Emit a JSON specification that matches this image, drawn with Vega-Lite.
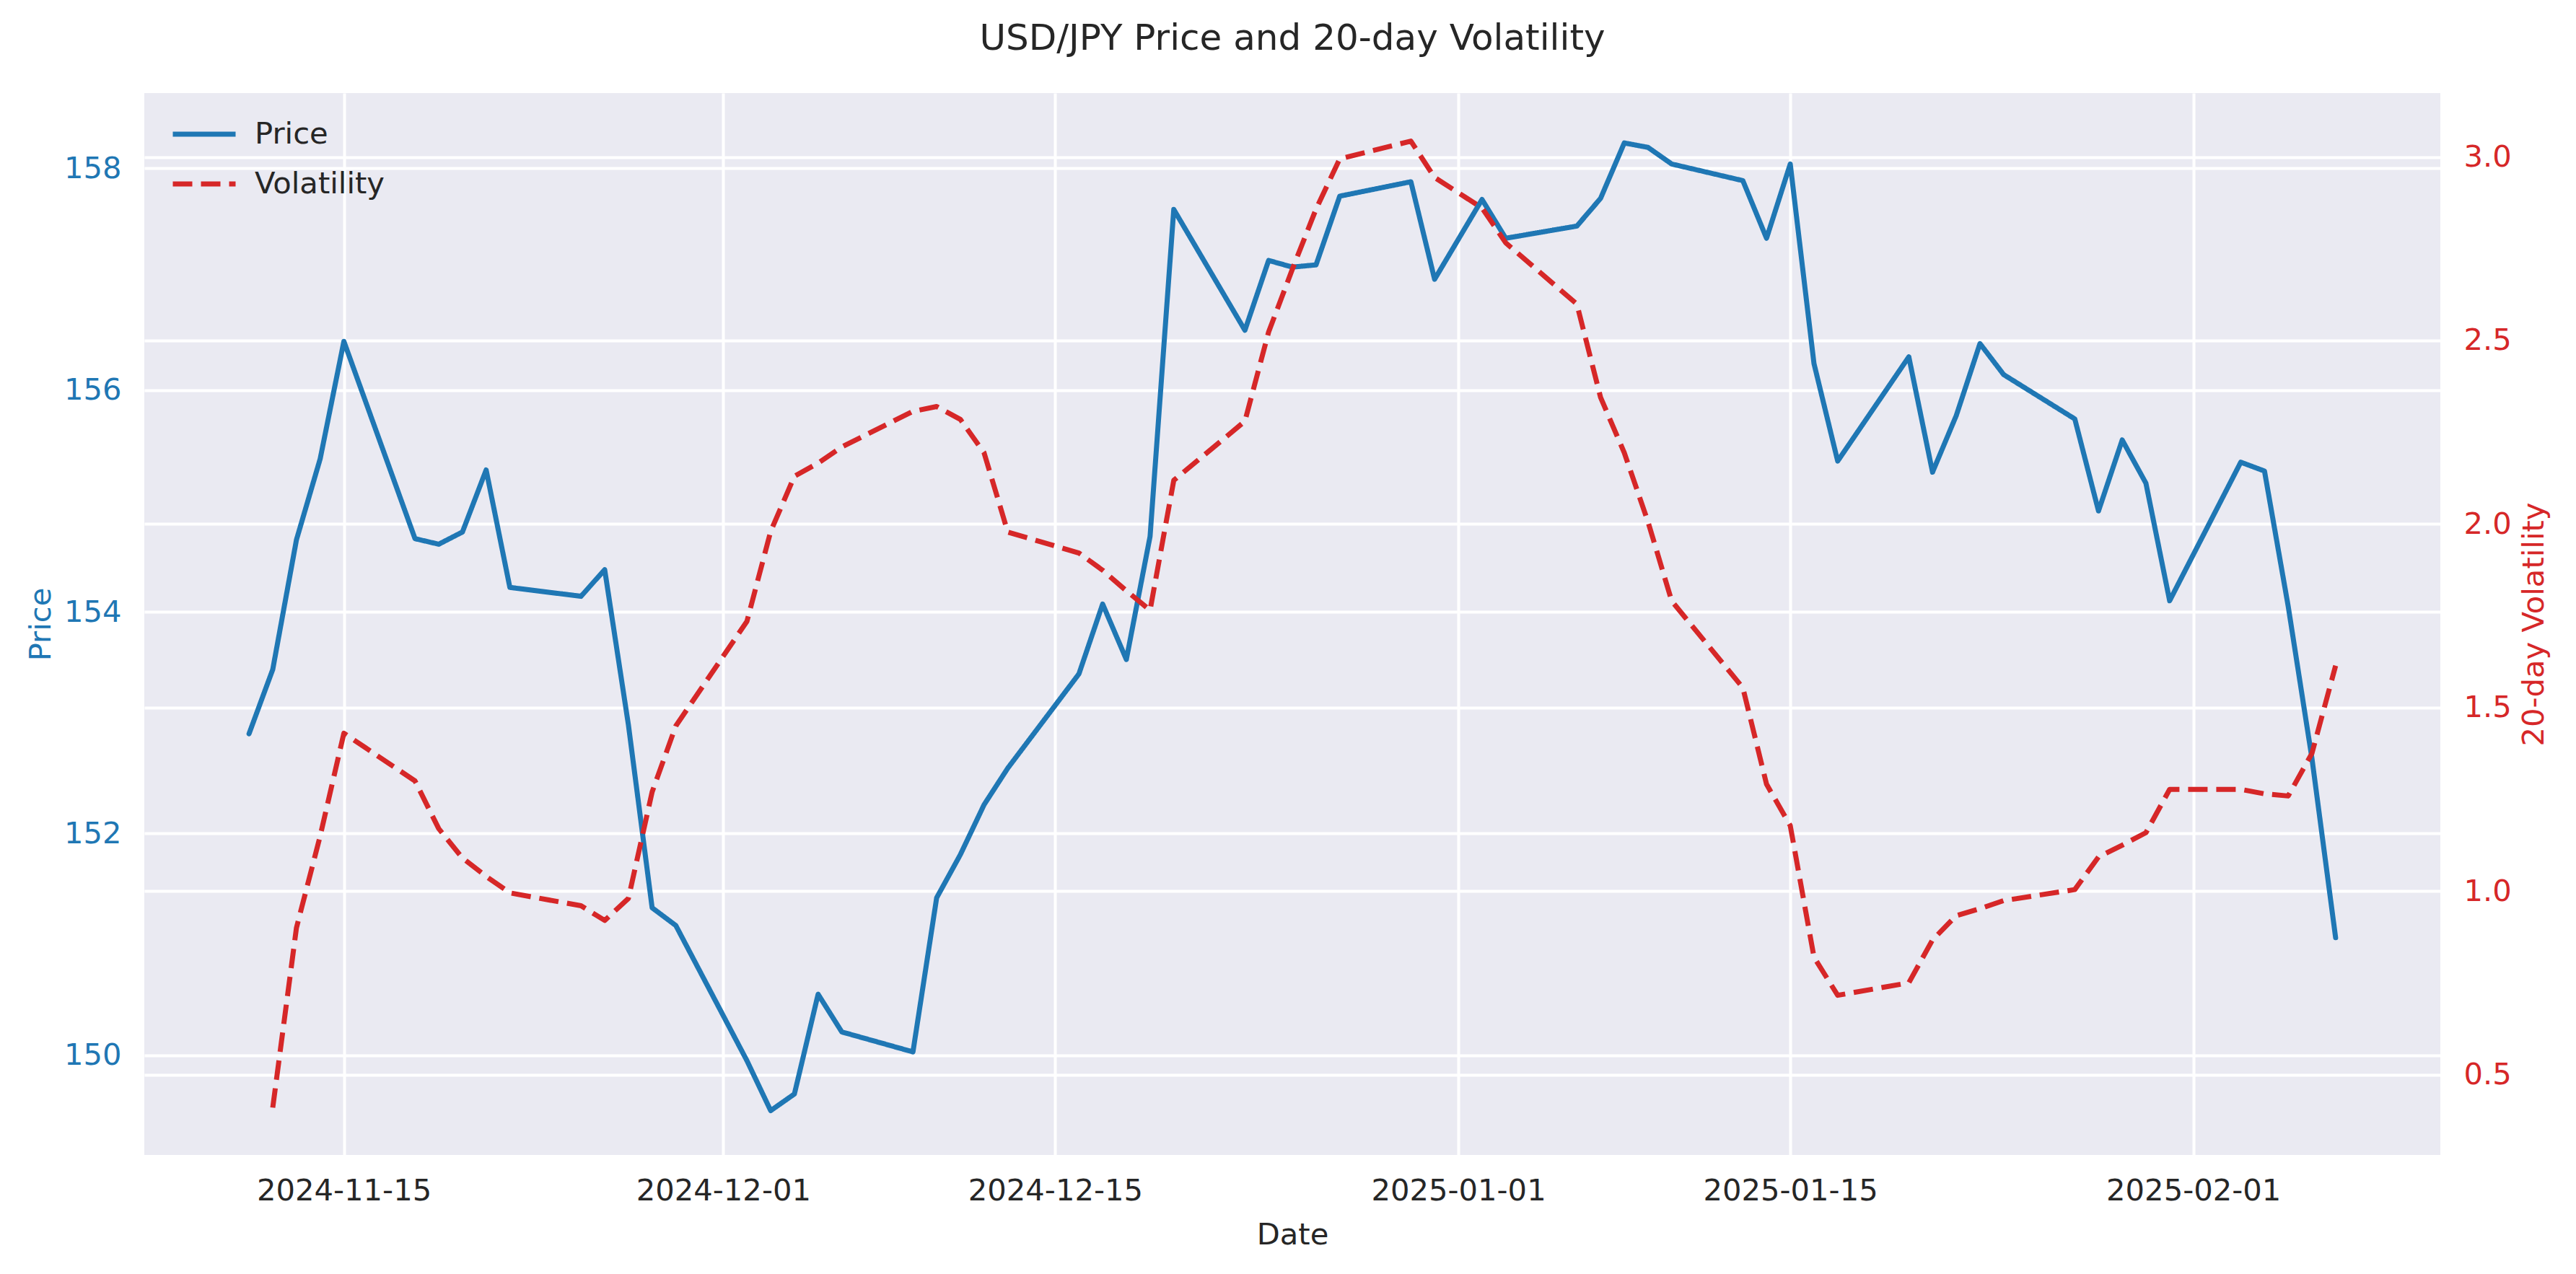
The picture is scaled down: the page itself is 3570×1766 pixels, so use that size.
{
  "$schema": "https://vega.github.io/schema/vega-lite/v6.json",
  "autosize": {"type": "none"},
  "width": 3182,
  "height": 1472,
  "padding": {"left": 200, "top": 129, "right": 188, "bottom": 165},
  "background": "white",
  "title": {"text": "USD/JPY Price and 20-day Volatility", "fontSize": 50, "font": "DejaVu Sans", "fontWeight": "normal", "color": "#262626", "anchor": "middle", "offset": 50},
  "data": {"values": [
    {"date": "2024-11-11", "Price": 152.90, "Volatility": null},
    {"date": "2024-11-12", "Price": 153.48, "Volatility": 0.41},
    {"date": "2024-11-13", "Price": 154.65, "Volatility": 0.90},
    {"date": "2024-11-14", "Price": 155.38, "Volatility": 1.15},
    {"date": "2024-11-15", "Price": 156.44, "Volatility": 1.43},
    {"date": "2024-11-18", "Price": 154.66, "Volatility": 1.30},
    {"date": "2024-11-19", "Price": 154.61, "Volatility": 1.17},
    {"date": "2024-11-20", "Price": 154.72, "Volatility": 1.09},
    {"date": "2024-11-21", "Price": 155.28, "Volatility": 1.04},
    {"date": "2024-11-22", "Price": 154.22, "Volatility": 0.995},
    {"date": "2024-11-25", "Price": 154.14, "Volatility": 0.96},
    {"date": "2024-11-26", "Price": 154.38, "Volatility": 0.92},
    {"date": "2024-11-27", "Price": 152.98, "Volatility": 0.98},
    {"date": "2024-11-28", "Price": 151.33, "Volatility": 1.27},
    {"date": "2024-11-29", "Price": 151.17, "Volatility": 1.45},
    {"date": "2024-12-02", "Price": 149.95, "Volatility": 1.735},
    {"date": "2024-12-03", "Price": 149.50, "Volatility": 1.98},
    {"date": "2024-12-04", "Price": 149.65, "Volatility": 2.13},
    {"date": "2024-12-05", "Price": 150.55, "Volatility": 2.166},
    {"date": "2024-12-06", "Price": 150.21, "Volatility": 2.21},
    {"date": "2024-12-09", "Price": 150.03, "Volatility": 2.307},
    {"date": "2024-12-10", "Price": 151.42, "Volatility": 2.32},
    {"date": "2024-12-11", "Price": 151.81, "Volatility": 2.285},
    {"date": "2024-12-12", "Price": 152.26, "Volatility": 2.194},
    {"date": "2024-12-13", "Price": 152.59, "Volatility": 1.978},
    {"date": "2024-12-16", "Price": 153.44, "Volatility": 1.921},
    {"date": "2024-12-17", "Price": 154.07, "Volatility": 1.874},
    {"date": "2024-12-18", "Price": 153.57, "Volatility": 1.818},
    {"date": "2024-12-19", "Price": 154.68, "Volatility": 1.765},
    {"date": "2024-12-20", "Price": 157.63, "Volatility": 2.119},
    {"date": "2024-12-23", "Price": 156.54, "Volatility": 2.28},
    {"date": "2024-12-24", "Price": 157.17, "Volatility": 2.523},
    {"date": "2024-12-25", "Price": 157.11, "Volatility": 2.694},
    {"date": "2024-12-26", "Price": 157.13, "Volatility": 2.858},
    {"date": "2024-12-27", "Price": 157.75, "Volatility": 2.995},
    {"date": "2024-12-30", "Price": 157.88, "Volatility": 3.043},
    {"date": "2024-12-31", "Price": 157.00, "Volatility": 2.944},
    {"date": "2025-01-02", "Price": 157.72, "Volatility": 2.861},
    {"date": "2025-01-03", "Price": 157.37, "Volatility": 2.766},
    {"date": "2025-01-06", "Price": 157.48, "Volatility": 2.599},
    {"date": "2025-01-07", "Price": 157.73, "Volatility": 2.345},
    {"date": "2025-01-08", "Price": 158.23, "Volatility": 2.194},
    {"date": "2025-01-09", "Price": 158.19, "Volatility": 2.006},
    {"date": "2025-01-10", "Price": 158.04, "Volatility": 1.79},
    {"date": "2025-01-13", "Price": 157.89, "Volatility": 1.554},
    {"date": "2025-01-14", "Price": 157.37, "Volatility": 1.291},
    {"date": "2025-01-15", "Price": 158.04, "Volatility": 1.178},
    {"date": "2025-01-16", "Price": 156.24, "Volatility": 0.82},
    {"date": "2025-01-17", "Price": 155.36, "Volatility": 0.716},
    {"date": "2025-01-20", "Price": 156.30, "Volatility": 0.75},
    {"date": "2025-01-21", "Price": 155.26, "Volatility": 0.867},
    {"date": "2025-01-22", "Price": 155.77, "Volatility": 0.933},
    {"date": "2025-01-23", "Price": 156.42, "Volatility": 0.952},
    {"date": "2025-01-24", "Price": 156.14, "Volatility": 0.974},
    {"date": "2025-01-27", "Price": 155.74, "Volatility": 1.004},
    {"date": "2025-01-28", "Price": 154.91, "Volatility": 1.093},
    {"date": "2025-01-29", "Price": 155.55, "Volatility": 1.125},
    {"date": "2025-01-30", "Price": 155.16, "Volatility": 1.159},
    {"date": "2025-01-31", "Price": 154.10, "Volatility": 1.277},
    {"date": "2025-02-03", "Price": 155.35, "Volatility": 1.277},
    {"date": "2025-02-04", "Price": 155.27, "Volatility": 1.265},
    {"date": "2025-02-05", "Price": 154.05, "Volatility": 1.259},
    {"date": "2025-02-06", "Price": 152.68, "Volatility": 1.375},
    {"date": "2025-02-07", "Price": 151.06, "Volatility": 1.614}
  ]},
  "transform": [{"fold": ["Price", "Volatility"], "as": ["key", "value"]}],
  "encoding": {
    "x": {
      "field": "date",
      "type": "temporal",
      "scale": {
        "type": "utc",
        "domain": [
          {"year": 2024, "month": 11, "date": 6, "hours": 14, "minutes": 0, "utc": true},
          {"year": 2025, "month": 2, "date": 11, "hours": 10, "minutes": 0, "utc": true}
        ]
      },
      "axis": {
        "title": "Date",
        "values": [
          {"year": 2024, "month": 11, "date": 15, "utc": true},
          {"year": 2024, "month": 12, "date": 1, "utc": true},
          {"year": 2024, "month": 12, "date": 15, "utc": true},
          {"year": 2025, "month": 1, "date": 1, "utc": true},
          {"year": 2025, "month": 1, "date": 15, "utc": true},
          {"year": 2025, "month": 2, "date": 1, "utc": true}
        ],
        "labelExpr": "utcFormat(datum.value, '%Y-%m-%d')",
        "labelLimit": 1000,
        "labelColor": "#262626",
        "titleColor": "#262626",
        "labelPadding": 29,
        "titlePadding": 20,
        "grid": true,
        "labelFlush": false,
        "labelOverlap": false
      }
    },
    "color": {
      "field": "key",
      "type": "nominal",
      "scale": {"domain": ["Price", "Volatility"], "range": ["#1f77b4", "#d62728"]},
      "legend": {"title": null}
    },
    "strokeDash": {
      "field": "key",
      "type": "nominal",
      "scale": {"domain": ["Price", "Volatility"], "range": [[1, 0], [27, 12]]},
      "legend": {"title": null}
    }
  },
  "layer": [
    {
      "transform": [{"filter": "datum.key === 'Price'"}],
      "mark": {"type": "line", "strokeWidth": 7, "strokeCap": "round", "strokeJoin": "round"},
      "encoding": {
        "y": {
          "field": "value",
          "type": "quantitative",
          "scale": {"domain": [149.10, 158.68], "nice": false, "zero": false},
          "axis": {
            "orient": "left",
            "title": "Price",
            "titleColor": "#1f77b4",
            "labelColor": "#1f77b4",
            "values": [150, 152, 154, 156, 158],
            "format": "d",
            "labelPadding": 32,
            "titlePadding": 10,
            "grid": true
          }
        }
      }
    },
    {
      "transform": [{"filter": "datum.key === 'Volatility'"}],
      "mark": {"type": "line", "strokeWidth": 7, "strokeJoin": "round"},
      "encoding": {
        "y": {
          "field": "value",
          "type": "quantitative",
          "scale": {"domain": [0.281, 3.174], "nice": false, "zero": false},
          "axis": {
            "orient": "right",
            "title": "20-day Volatility",
            "titleColor": "#d62728",
            "labelColor": "#d62728",
            "values": [0.5, 1.0, 1.5, 2.0, 2.5, 3.0],
            "format": ".1f",
            "labelPadding": 32,
            "titlePadding": 11,
            "titleAngle": 270,
            "titleBaseline": "top",
            "grid": true
          }
        }
      }
    }
  ],
  "resolve": {"scale": {"y": "independent"}, "axis": {"y": "independent"}},
  "config": {
    "view": {"fill": "#EAEAF2", "stroke": null},
    "font": "DejaVu Sans",
    "axis": {
      "domain": false,
      "ticks": false,
      "tickSize": 0,
      "gridColor": "#FFFFFF",
      "gridWidth": 4,
      "gridOpacity": 1,
      "labelFont": "DejaVu Sans",
      "labelFontSize": 41.7,
      "titleFont": "DejaVu Sans",
      "titleFontSize": 41.7,
      "titleFontWeight": "normal"
    },
    "legend": {
      "orient": "none",
      "legendX": 36,
      "legendY": 10,
      "symbolType": "stroke",
      "symbolSize": 7569,
      "symbolStrokeWidth": 7,
      "labelFont": "DejaVu Sans",
      "labelFontSize": 41.7,
      "labelColor": "#262626",
      "labelLimit": 1000,
      "rowPadding": -42,
      "labelOffset": 23,
      "padding": 0
    }
  }
}
